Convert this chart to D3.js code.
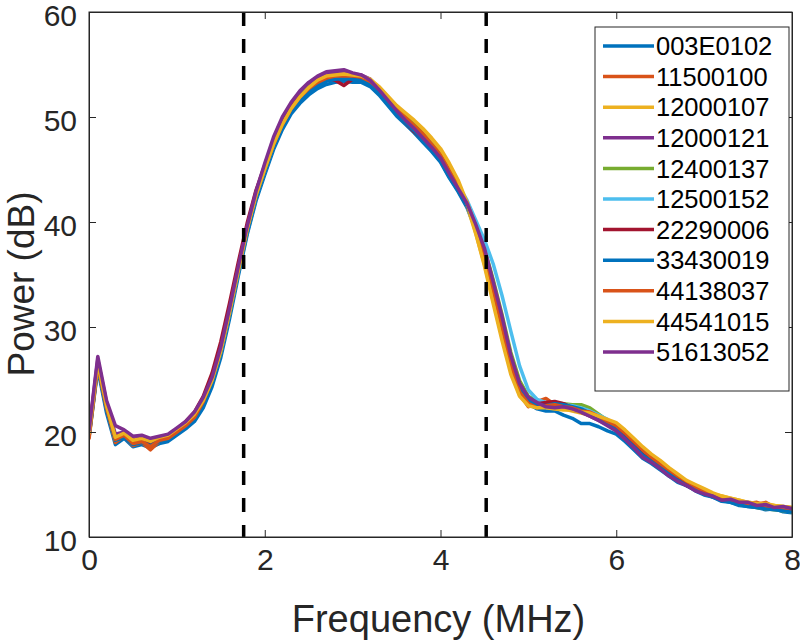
<!DOCTYPE html>
<html>
<head>
<meta charset="utf-8">
<script src="https://cdn.jsdelivr.net/npm/d3@7"></script>
<style>
  body { margin: 0; background: #fff; }
  svg { display: block; font-family: "Liberation Sans", Arial, Helvetica, sans-serif; }
</style>
</head>
<body>
<div id="chart"></div>
<script>
"use strict";

// frequency grid, MHz
var freqs = d3.range(0, 81).map(function (i) { return i / 10; });

var names = ["003E0102", "11500100", "12000107", "12000121", "12400137", "12500152",
  "22290006", "33430019", "44138037", "44541015", "51613052"];

var colors = ["#0072BD", "#D95319", "#EDB120", "#7E2F8E", "#77AC30", "#4DBEEE",
  "#A2142F", "#0072BD", "#D95319", "#EDB120", "#7E2F8E"];

// power (dB) per series, one value per frequency step
var s003E0102 = [19.5,26.0,21.8,18.8,19.4,18.6,18.8,18.5,18.9,19.1,
  19.7,20.3,21.0,22.3,24.3,27.1,30.8,34.9,38.8,42.0,
  44.5,46.9,48.8,50.3,51.3,52.1,52.7,53.1,53.3,53.4,
  53.3,53.3,52.9,52.1,51.1,50.1,49.3,48.5,47.6,46.7,
  45.7,44.2,42.9,41.4,39.3,37.0,33.6,30.3,26.7,24.2,
  22.7,22.2,22.0,22.0,21.6,21.3,20.8,20.8,20.5,20.1,
  19.8,19.1,18.3,17.5,17.0,16.4,15.8,15.2,14.9,14.4,
  14.0,13.8,13.4,13.3,13.0,12.9,12.8,12.6,12.7,12.4,
  12.3];
var s11500100 = [19.3,26.3,22.2,19.0,19.6,18.7,19.0,18.3,19.1,19.4,
  20.0,20.6,21.4,22.8,24.9,27.9,31.7,35.7,39.5,42.7,
  45.1,47.4,49.3,50.7,51.8,52.6,53.2,53.6,53.8,53.8,
  53.8,53.7,53.3,52.6,51.7,50.8,50.0,49.2,48.3,47.3,
  46.3,44.8,43.4,41.8,39.5,36.9,33.4,29.9,26.3,23.6,
  22.4,22.9,23.2,22.6,22.5,22.2,22.0,21.6,21.3,20.8,
  20.3,19.6,18.9,18.1,17.5,16.9,16.3,15.7,15.2,14.8,
  14.4,14.0,13.8,13.5,13.4,13.2,13.1,13.3,12.8,12.8,
  12.7];
var s12000107 = [19.9,26.4,22.3,19.2,19.9,19.1,19.3,19.0,19.4,19.6,
  20.2,20.8,21.6,22.9,24.8,27.6,31.3,35.3,39.2,42.4,
  44.9,47.3,49.2,50.7,51.8,52.7,53.4,53.8,53.8,54.0,
  53.8,53.9,53.5,52.8,51.9,51.0,50.3,49.6,48.8,47.9,
  46.8,45.3,43.7,41.6,38.9,36.0,32.5,29.0,25.8,23.5,
  22.5,22.4,22.5,22.3,22.2,22.0,21.8,21.6,21.4,21.1,
  20.8,20.1,19.3,18.5,17.8,17.2,16.5,15.9,15.3,14.9,
  14.5,14.1,13.9,13.7,13.5,13.3,13.2,13.1,13.0,12.9,
  12.8];
var s12000121 = [20.0,26.9,22.8,19.8,20.0,19.3,19.4,19.2,19.5,19.6,
  20.2,20.8,21.7,23.2,25.2,28.1,31.8,35.8,39.5,42.7,
  45.3,47.8,49.7,51.1,52.2,53.0,53.6,54.0,54.2,54.3,
  54.1,54.0,53.6,52.7,51.7,50.7,49.8,48.9,48.1,47.1,
  46.1,44.6,43.2,41.7,39.6,37.3,34.0,30.6,27.0,24.5,
  23.0,22.6,22.4,22.4,22.3,22.1,21.9,21.5,21.1,20.7,
  20.2,19.4,18.6,17.8,17.2,16.6,16.0,15.4,14.9,14.5,
  14.2,13.8,13.6,13.4,13.2,13.0,12.9,12.7,12.8,12.6,
  12.5];
var s12400137 = [19.7,26.5,22.4,19.4,19.7,19.0,19.1,18.8,19.3,19.5,
  20.1,20.7,21.5,22.9,24.9,27.8,31.6,35.6,39.4,42.6,
  45.0,47.4,49.3,50.8,51.9,52.8,53.4,53.8,53.9,54.0,
  53.9,53.8,53.5,52.8,51.9,51.0,50.1,49.3,48.4,47.4,
  46.3,44.8,43.4,41.9,39.8,37.5,34.5,31.2,27.6,24.9,
  23.4,22.9,22.7,22.8,22.7,22.6,22.6,22.3,21.7,21.1,
  20.5,19.7,18.9,18.0,17.3,16.6,16.0,15.5,15.0,14.6,
  14.2,13.9,13.6,13.4,13.1,13.0,12.8,12.7,12.6,12.5,
  12.4];
var s12500152 = [19.6,26.4,22.3,19.4,19.8,19.1,19.3,19.0,19.4,19.7,
  20.3,20.9,21.6,22.9,24.8,27.6,31.3,35.3,39.1,42.3,
  44.8,47.2,49.2,50.7,51.8,52.7,53.3,53.7,53.9,53.9,
  53.8,53.7,53.3,52.6,51.6,50.7,49.9,49.1,48.2,47.3,
  46.3,44.8,43.5,42.1,40.2,38.3,36.0,33.0,29.6,26.3,
  24.0,23.1,22.8,22.6,22.6,22.5,22.3,22.0,21.6,21.2,
  20.6,19.8,19.0,18.2,17.5,16.9,16.3,15.7,15.1,14.7,
  14.3,13.9,13.6,13.5,13.3,13.1,12.9,12.9,12.7,12.7,
  12.6];
var s22290006 = [19.8,26.5,22.4,19.5,19.8,19.1,19.2,18.9,19.4,19.6,
  20.3,21.0,21.9,23.4,25.6,28.6,32.3,36.2,39.9,43.0,
  45.4,47.7,49.5,50.9,51.9,52.7,53.3,53.6,53.5,53.0,
  53.6,53.7,53.3,52.5,51.5,50.4,49.5,48.6,47.9,47.0,
  46.0,44.5,43.1,41.7,39.5,37.1,33.8,30.5,27.0,24.6,
  23.2,22.7,22.8,22.9,22.7,22.3,22.1,21.8,21.4,20.9,
  20.4,19.6,18.7,17.9,17.3,16.7,16.1,15.5,15.1,14.6,
  14.3,14.0,13.7,13.4,13.3,13.1,12.9,12.9,12.7,12.6,
  12.5];
var s33430019 = [19.6,26.3,22.1,19.2,19.5,18.8,19.0,18.7,19.1,19.3,
  19.9,20.5,21.2,22.6,24.6,27.5,31.2,35.2,39.0,42.2,
  44.7,47.1,49.0,50.5,51.6,52.4,53.0,53.4,53.6,53.7,
  53.6,53.5,53.1,52.3,51.3,50.3,49.5,48.7,47.8,46.8,
  45.8,44.3,43.0,41.6,39.5,37.2,33.9,30.6,27.0,24.5,
  23.1,22.6,22.5,22.7,22.6,22.4,22.2,21.8,21.3,20.8,
  20.2,19.4,18.6,17.8,17.2,16.6,16.0,15.4,14.9,14.5,
  14.1,13.8,13.5,13.3,13.1,12.9,12.8,12.7,12.6,12.5,
  12.4];
var s44138037 = [19.5,26.4,22.3,19.3,19.7,18.9,19.1,18.6,19.2,19.4,
  20.0,20.6,21.4,22.9,25.0,27.9,31.6,35.6,39.4,42.6,
  45.1,47.4,49.3,50.8,51.9,52.7,53.3,53.7,53.9,53.9,
  53.9,53.8,53.4,52.7,51.8,50.8,50.0,49.2,48.4,47.4,
  46.4,44.9,43.5,41.9,39.6,37.0,33.5,30.0,26.4,23.8,
  22.7,22.3,22.5,22.6,22.4,22.3,22.0,21.9,21.5,21.0,
  20.6,19.9,19.1,18.3,17.6,17.0,16.4,15.8,15.3,14.8,
  14.4,14.1,13.8,13.6,13.4,13.2,13.3,13.0,12.9,12.8,
  12.7];
var s44541015 = [19.8,26.6,22.5,19.5,19.9,19.2,19.4,19.1,19.5,19.7,
  20.3,20.9,21.7,23.0,24.9,27.7,31.4,35.4,39.3,42.5,
  45.0,47.4,49.3,50.8,51.9,52.8,53.5,53.9,54.0,54.1,
  54.0,53.9,53.6,52.9,52.0,51.1,50.4,49.7,48.9,48.0,
  47.0,45.6,44.0,41.9,39.0,35.8,32.2,28.7,25.5,23.4,
  22.5,22.3,22.3,22.2,22.1,22.1,21.9,21.8,21.5,21.2,
  20.9,20.2,19.4,18.6,17.9,17.3,16.6,16.0,15.4,15.0,
  14.6,14.2,13.9,13.7,13.5,13.3,13.2,13.2,13.0,12.9,
  12.8];
var s51613052 = [20.1,27.2,23.0,20.6,20.2,19.6,19.7,19.4,19.6,19.8,
  20.4,21.0,21.9,23.3,25.2,28.1,31.8,35.8,39.6,42.9,
  45.6,48.1,50.0,51.4,52.5,53.3,53.9,54.3,54.4,54.5,
  54.2,54.0,53.5,52.6,51.6,50.6,49.7,48.9,48.0,47.1,
  46.1,44.6,43.2,41.8,39.8,37.5,34.3,31.0,27.3,24.6,
  23.3,22.8,22.4,22.3,22.4,22.2,21.9,21.5,21.1,20.6,
  20.1,19.3,18.5,17.6,17.1,16.5,15.8,15.3,14.9,14.4,
  14.1,13.9,13.5,13.6,13.3,13.3,13.0,13.1,12.8,12.9,
  12.7];

var powers = [s003E0102, s11500100, s12000107, s12000121, s12400137, s12500152,
  s22290006, s33430019, s44138037, s44541015, s51613052];

// band edges (dashed lines), MHz
var cutoffs = [1.76, 4.52];

var xTicks = [0, 2, 4, 6, 8];
var yTicks = [10, 20, 30, 40, 50, 60];

var width = 800, height = 640;
var margin = {top: 12, right: 8, bottom: 103, left: 89};
var axisColor = "#262626";

var svg = d3.select("#chart").append("svg")
  .attr("width", width).attr("height", height);

var x = d3.scaleLinear().domain([0, 8]).range([margin.left, width - margin.right]);
var y = d3.scaleLinear().domain([10, 60]).range([height - margin.bottom, margin.top]);

var plot = svg.append("g");

plot.append("defs").append("clipPath").attr("id", "clip")
  .append("rect")
  .attr("x", x(0)).attr("y", y(60))
  .attr("width", x(8) - x(0)).attr("height", y(10) - y(60));

var line = d3.line()
  .x(function (d) { return x(d[0]); })
  .y(function (d) { return y(d[1]); });

// spectra
plot.append("g").attr("clip-path", "url(#clip)")
  .selectAll("path.spec")
  .data(powers)
  .enter().append("path")
  .attr("class", "spec")
  .attr("fill", "none")
  .attr("stroke", function (d, i) { return colors[i]; })
  .attr("stroke-width", 3.5)
  .attr("stroke-linejoin", "round")
  .attr("d", function (d) {
    return line(d.map(function (v, i) { return [freqs[i], v]; }));
  });

// band edges
plot.selectAll("line.cut")
  .data(cutoffs)
  .enter().append("line")
  .attr("class", "cut")
  .attr("x1", function (d) { return x(d); })
  .attr("x2", function (d) { return x(d); })
  .attr("y1", y(60)).attr("y2", y(10))
  .attr("stroke", "#000")
  .attr("stroke-width", 3.5)
  .attr("stroke-dasharray", "14,13");

// axes, ticks inside, box all round
var tickLen = 7;
var xAxis = d3.axisBottom(x).tickValues(xTicks).tickSizeInner(-tickLen).tickSizeOuter(0).tickPadding(12);
var yAxis = d3.axisLeft(y).tickValues(yTicks).tickSizeInner(-tickLen).tickSizeOuter(0).tickPadding(12);
var xTop = d3.axisTop(x).tickValues(xTicks).tickSizeInner(-tickLen).tickSizeOuter(0).tickFormat("");
var yRight = d3.axisRight(y).tickValues(yTicks).tickSizeInner(-tickLen).tickSizeOuter(0).tickFormat("");

var gx = svg.append("g").attr("transform", "translate(0," + y(10) + ")").call(xAxis);
var gy = svg.append("g").attr("transform", "translate(" + x(0) + ",0)").call(yAxis);
svg.append("g").attr("transform", "translate(0," + y(60) + ")").call(xTop);
svg.append("g").attr("transform", "translate(" + x(8) + ",0)").call(yRight);

svg.selectAll(".domain, .tick line").attr("stroke", axisColor).attr("stroke-width", 1);
svg.selectAll(".tick text")
  .attr("fill", axisColor)
  .style("font-size", "30px")
  .style("font-family", "\"Liberation Sans\", Arial, sans-serif");
gx.selectAll(".tick text").attr("dy", "0.71em");
gy.selectAll(".tick text").attr("dy", "0.45em");

// the box
svg.append("rect")
  .attr("x", x(0)).attr("y", y(60))
  .attr("width", x(8) - x(0)).attr("height", y(10) - y(60))
  .attr("fill", "none").attr("stroke", axisColor).attr("stroke-width", 1);

// axis titles
svg.append("text")
  .attr("x", (x(0) + x(8)) / 2 - 2).attr("y", 632)
  .attr("text-anchor", "middle")
  .attr("fill", axisColor)
  .style("font-size", "38px")
  .text("Frequency (MHz)");

svg.append("text")
  .attr("transform", "translate(34,284) rotate(-90)")
  .attr("text-anchor", "middle")
  .attr("fill", axisColor)
  .style("font-size", "37px")
  .text("Power (dB)");

// legend
var leg = {x: 595, y: 27, w: 194, h: 364, row: 30.6, first: 46};
var legend = svg.append("g");
legend.append("rect")
  .attr("x", leg.x).attr("y", leg.y).attr("width", leg.w).attr("height", leg.h)
  .attr("fill", "#fff").attr("stroke", axisColor).attr("stroke-width", 1);

var items = legend.selectAll("g.item")
  .data(names)
  .enter().append("g")
  .attr("class", "item")
  .attr("transform", function (d, i) { return "translate(" + leg.x + "," + (leg.first + i * leg.row) + ")"; });

items.append("line")
  .attr("x1", 8).attr("x2", 59)
  .attr("stroke", function (d, i) { return colors[i]; })
  .attr("stroke-width", 3.5);

items.append("text")
  .attr("x", 61).attr("dy", "0.36em")
  .attr("fill", "#000")
  .style("font-size", "25.5px")
  .text(function (d) { return d; });
</script>
</body>
</html>
